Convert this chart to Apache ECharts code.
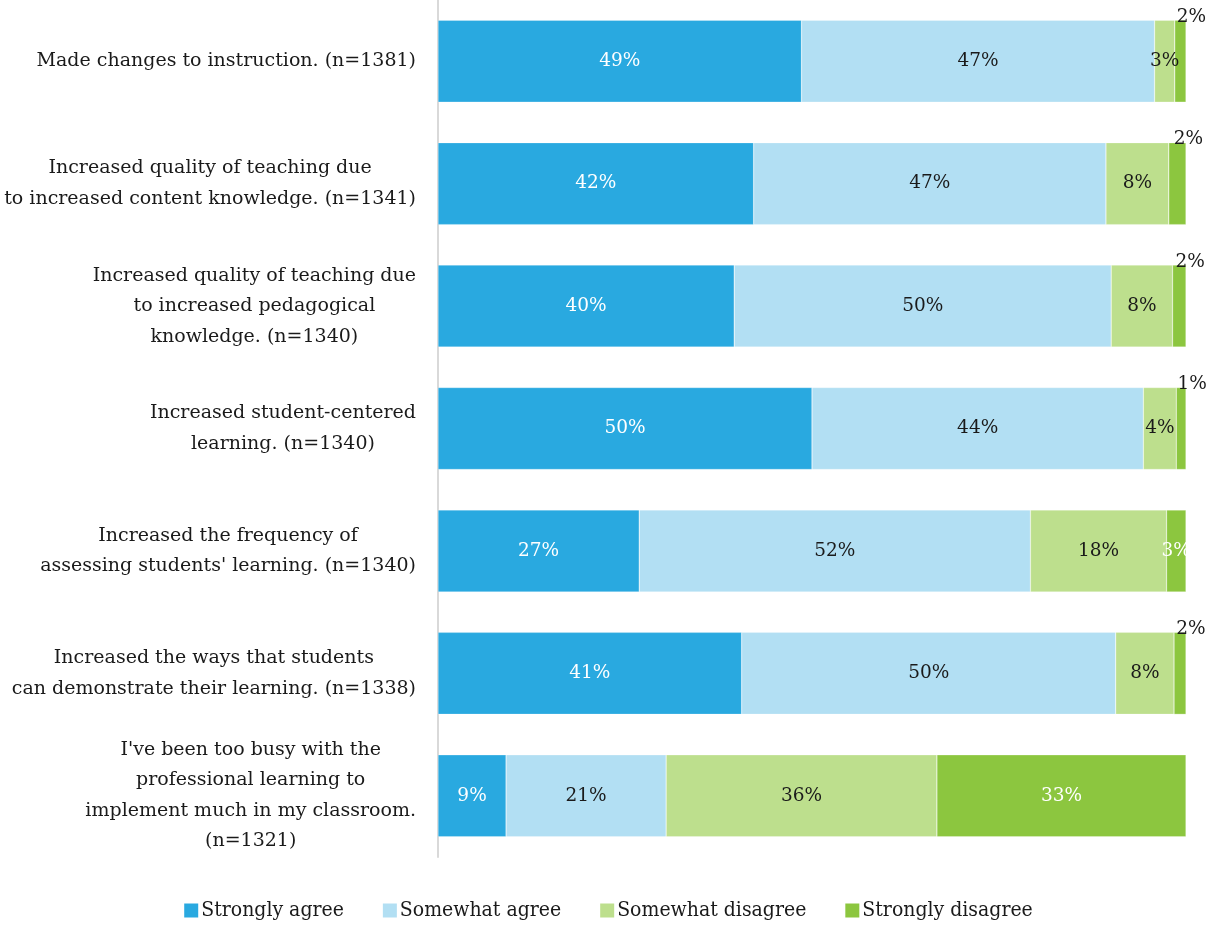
<!DOCTYPE html>
<html>
<head>
<meta charset="utf-8">
<script src="https://cdn.jsdelivr.net/npm/echarts@6/dist/echarts.min.js"></script>
<style>
html,body{margin:0;padding:0;background:#fff;}
#chart{width:1217px;height:926px;}
</style>
</head>
<body>
<div id="chart"></div>
<script>
const categories = [
  "Made changes to instruction. (n=1381)",
  "Increased quality of teaching due\nto increased content knowledge. (n=1341)",
  "Increased quality of teaching due\nto increased pedagogical\nknowledge. (n=1340)",
  "Increased student-centered\nlearning. (n=1340)",
  "Increased the frequency of\nassessing students' learning. (n=1340)",
  "Increased the ways that students\ncan demonstrate their learning. (n=1338)",
  "I've been too busy with the\nprofessional learning to\nimplement much in my classroom.\n(n=1321)"
];
const seriesNames = ["Strongly agree", "Somewhat agree", "Somewhat disagree", "Strongly disagree"];
const stronglyAgree    = [48.6, 42.2, 39.6, 50.0, 26.9, 40.6, 9.1];
const somewhatAgree    = [47.2, 47.1, 50.4, 44.3, 52.3, 50.0, 21.4];
const somewhatDisagree = [2.7, 8.4, 8.2, 4.4, 18.2, 7.8, 36.2];
const stronglyDisagree = [1.5, 2.3, 1.8, 1.3, 2.6, 1.6, 33.3];

const colors = ["#29A9E0", "#B2DFF3", "#BDDF8D", "#8CC63F"];
const labelColors = ["#ffffff", "#1a1a1a", "#1a1a1a", "#ffffff"];
const FONT = '"DejaVu Serif", serif';
const FS = 19;
const VFS = 18.5;

const allData = [stronglyAgree, somewhatAgree, somewhatDisagree, stronglyDisagree];

const series = allData.map((arr, si) => ({
  name: seriesNames[si],
  type: 'bar',
  stack: 'total',
  barWidth: 82,
  itemStyle: { color: colors[si], borderColor: 'rgba(255,255,255,0.5)', borderWidth: 0.5 },
  label: {
    show: true,
    position: 'inside',
    color: labelColors[si],
    fontFamily: FONT,
    fontSize: VFS,
    formatter: p => Math.round(p.value) + '%'
  },
  data: arr.map(v => {
    if (si === 3 && v < 2.5) {
      return {
        value: v,
        label: {
          position: ['50%', 0],
          align: 'center',
          verticalAlign: 'middle',
          offset: [11, -3],
          color: '#1a1a1a'
        }
      };
    }
    return v;
  })
}));

const chart = echarts.init(document.getElementById('chart'), null, { renderer: 'canvas' });
chart.setOption({
  animation: false,
  color: colors,
  grid: { left: 438, right: 31, top: -2, bottom: 69, containLabel: false },
  xAxis: {
    type: 'value', min: 0, max: 100, show: false
  },
  yAxis: {
    type: 'category',
    inverse: true,
    data: categories,
    axisLine: { show: true, lineStyle: { color: '#d9d9d9', width: 2 } },
    axisTick: { show: false },
    splitLine: { show: false },
    axisLabel: {
      margin: 22,
      align: 'right',
      color: '#1a1a1a',
      fontFamily: FONT,
      fontSize: FS,
      lineHeight: 30.5,
      formatter: v => v.split('\n').map(l => '{c|' + l + '}').join('\n'),
      rich: { c: { align: 'center', fontFamily: FONT, fontSize: FS, lineHeight: 30.5, color: '#1a1a1a' } }
    }
  },
  legend: {
    data: seriesNames,
    left: 'center',
    top: 895,
    icon: 'rect',
    itemWidth: 14,
    itemHeight: 14,
    itemGap: 39,
    itemStyle: { borderWidth: 0 },
    textStyle: { fontFamily: '"DejaVu Serif Condensed", "DejaVu Serif", serif', fontSize: 21, color: '#1a1a1a', padding: [0, 0, 0, -2] }
  },
  series: series
});
</script>
</body>
</html>
